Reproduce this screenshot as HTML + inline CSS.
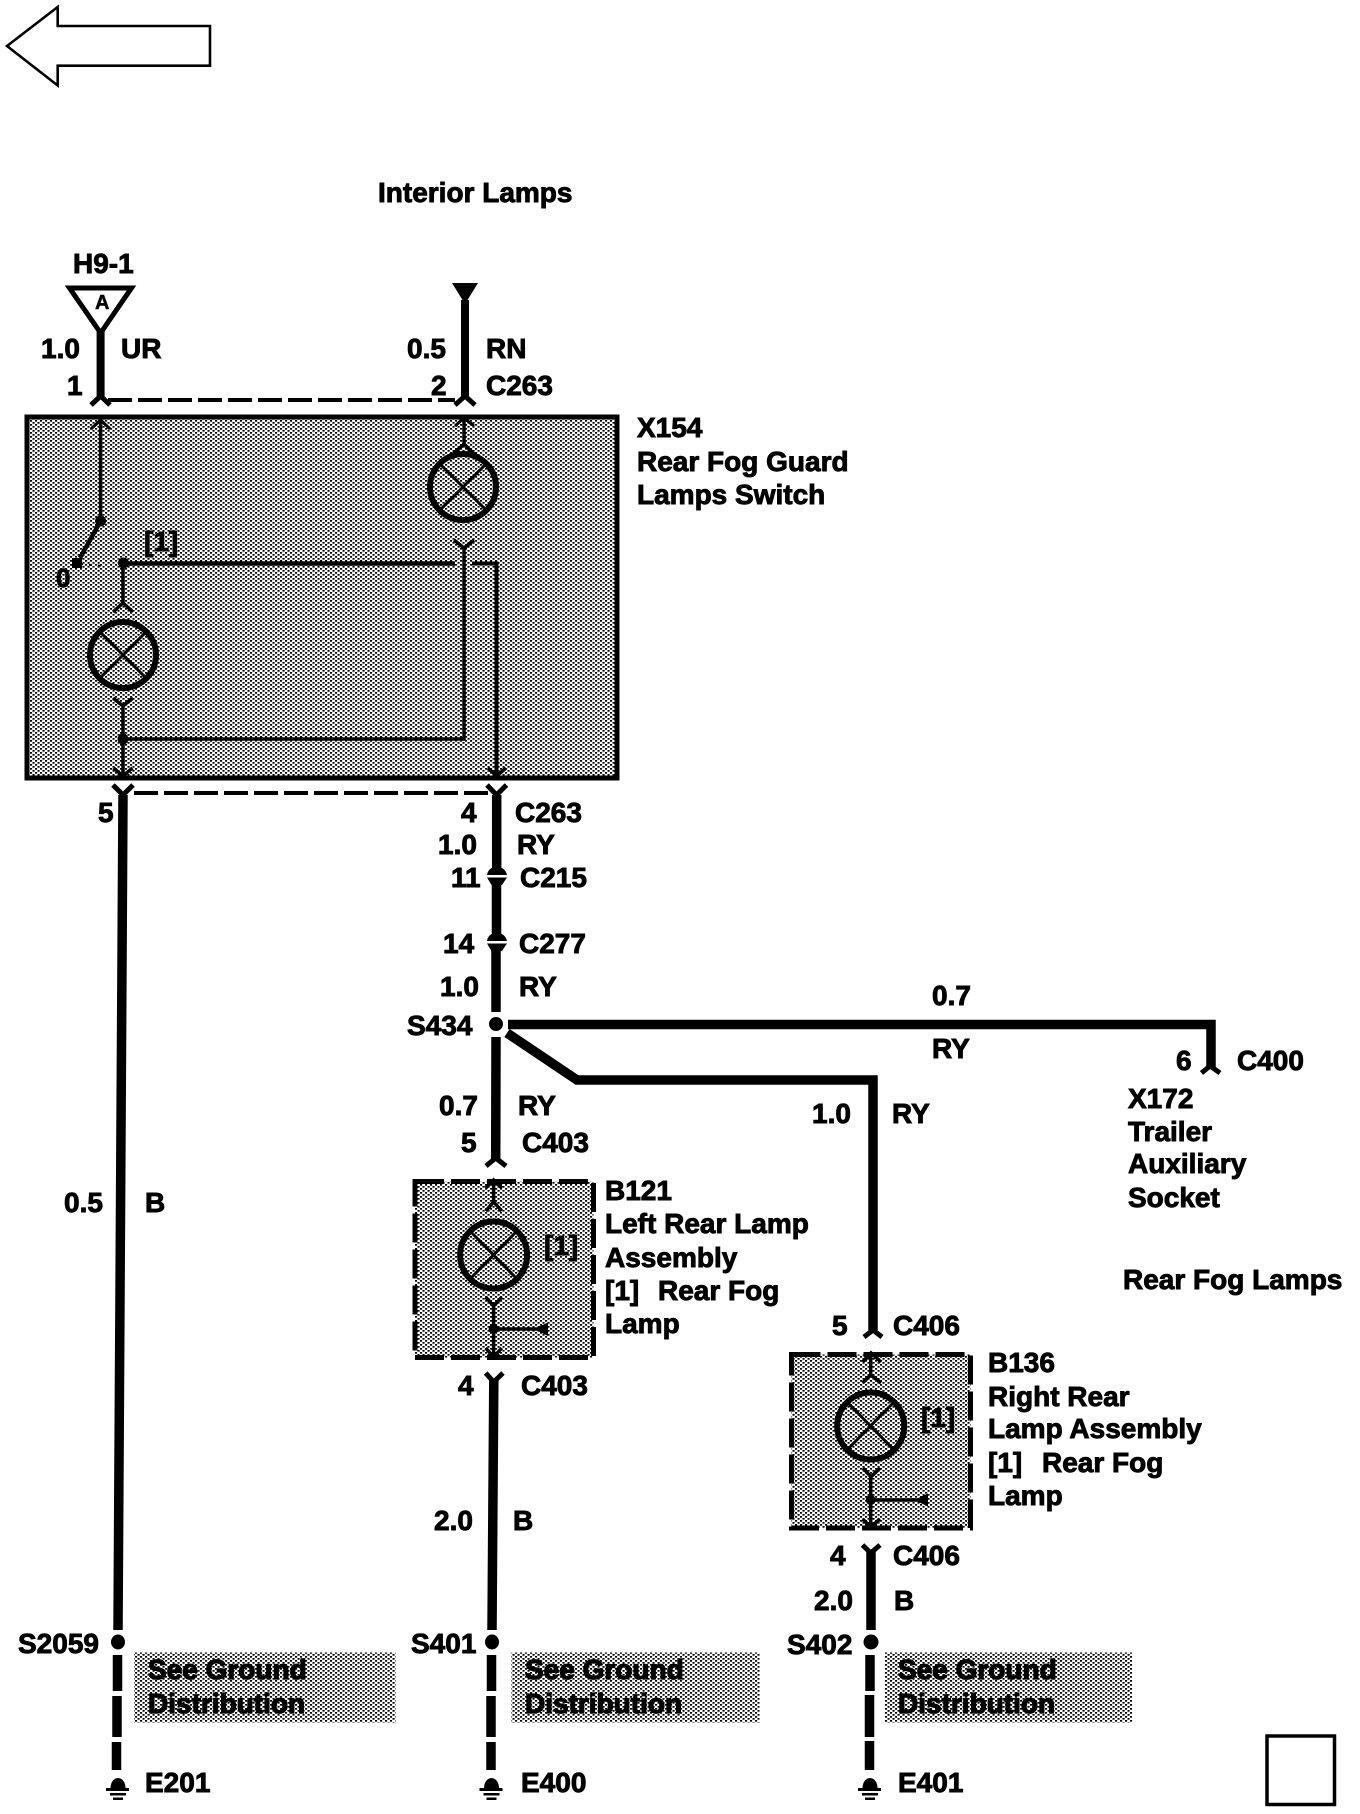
<!DOCTYPE html>
<html><head><meta charset="utf-8"><style>
html,body{margin:0;padding:0;background:#fff}
svg{display:block}
text{font-family:"Liberation Sans",sans-serif;font-weight:bold;font-size:28px;fill:#000;stroke:#000;stroke-width:.9px}
.w{fill:none;stroke:#000;stroke-width:9.5}
.t{fill:none;stroke:#000;stroke-width:3.5}
.c{fill:none;stroke:#000;stroke-width:5}
.l{fill:none;stroke:#000;stroke-width:6}
.x{stroke:#000;stroke-width:3}
</style></head><body>
<svg width="1360" height="1814" viewBox="0 0 1360 1814" xmlns="http://www.w3.org/2000/svg">
<defs>
<pattern id="d" width="5" height="4" patternUnits="userSpaceOnUse"><rect x="0" y="0" width="2.1" height="1.7" fill="#000"/><rect x="2.5" y="2" width="2.1" height="1.7" fill="#000"/></pattern>
</defs>
<rect width="1360" height="1814" fill="#fff"/>

<!-- back arrow -->
<polygon points="7,46 57.7,7 57.7,26 210,26 210,65.7 57.7,65.7 57.7,85.5" fill="#fff" stroke="#000" stroke-width="2.6"/>

<text x="378" y="202">Interior Lamps</text>

<!-- top connectors -->
<text x="73" y="273">H9-1</text>
<polygon points="69.5,288 131.5,288 100.6,333" fill="#fff" stroke="#000" stroke-width="5"/>
<text x="95" y="309" style="font-size:20px;stroke-width:.5px">A</text>
<line class="w" x1="100.6" y1="330" x2="100.6" y2="398" style="stroke-width:8"/>
<polyline class="c" points="91,405 100.6,396 110,405"/>
<polygon points="452,283 478,283 465,304" fill="#000"/>
<line class="w" x1="465" y1="300" x2="465" y2="398" style="stroke-width:8"/>
<polyline class="c" points="455,405 465,396 475,405"/>
<line x1="108" y1="400" x2="455" y2="400" stroke="#000" stroke-width="4" stroke-dasharray="24 6"/>
<text x="41" y="358">1.0</text><text x="121" y="358">UR</text>
<text x="407" y="358">0.5</text><text x="486" y="358">RN</text>
<text x="67" y="395">1</text><text x="431" y="395">2</text><text x="486" y="395">C263</text>

<!-- X154 box -->
<rect x="27" y="417" width="590" height="361" fill="#fff"/>
<rect x="27" y="417" width="590" height="361" fill="url(#d)" stroke="#000" stroke-width="5"/>
<polyline class="t" points="100.6,417 100.6,521"/>
<polyline class="c" style="stroke-width:3" points="91,429 100.6,420 110,429"/>
<circle cx="100.6" cy="521" r="5.5"/>
<line x1="100.6" y1="521" x2="80" y2="558" stroke="#000" stroke-width="4.5"/>
<rect x="72" y="558" width="10" height="10"/>
<line x1="80" y1="564" x2="104" y2="566" stroke="#000" stroke-width="2" stroke-dasharray="3 6"/>
<circle cx="123.5" cy="563" r="5.5"/>
<line x1="123" y1="563.5" x2="455" y2="563.5" stroke="#000" stroke-width="4.5"/>
<polyline class="t" style="stroke-width:4" points="472,563.5 496.5,563.5 496.5,777"/>
<polyline class="t" points="123,563 123,604"/>
<polyline class="c" style="stroke-width:3.5" points="113,612 123,603 133,612"/>
<circle class="l" cx="123" cy="655" r="33" style="stroke-width:6"/>
<line class="x" x1="100" y1="632" x2="146" y2="678"/><line class="x" x1="146" y1="632" x2="100" y2="678"/>
<polyline class="c" style="stroke-width:3.5" points="113,698 123,706 133,698"/>
<polyline class="t" points="123,706 123,777"/>
<circle cx="123" cy="739" r="5.5"/>
<polyline class="t" points="123,739 464,739 464,548"/>
<polyline class="c" style="stroke-width:3.5" points="113.5,768 123,776 132.5,768"/>
<polyline class="c" style="stroke-width:3.5" points="488,768 496.5,776 506,768"/>
<polyline class="t" points="464,417 464,444"/>
<polyline class="c" style="stroke-width:3" points="455,426 464,418 474,426"/>
<polyline class="c" style="stroke-width:3.5" points="452,455 464,444 475,455"/>
<circle class="l" cx="463" cy="487" r="33"/>
<line class="x" x1="440" y1="464" x2="486" y2="510"/><line class="x" x1="486" y1="464" x2="440" y2="510"/>
<polyline class="c" style="stroke-width:3.5" points="454,540 464,548 474,540"/>
<text x="144" y="551">[1]</text>
<text x="56" y="587" style="font-size:26px">0</text>
<text x="637" y="437">X154</text><text x="637" y="471">Rear Fog Guard</text><text x="637" y="504">Lamps Switch</text>

<!-- below box -->
<line x1="134" y1="793" x2="490" y2="793" stroke="#000" stroke-width="4" stroke-dasharray="24 6"/>
<line class="w" x1="123" y1="795" x2="118" y2="1630"/>
<polyline class="c" points="113,785 123,795 133,785"/>
<polyline class="c" points="487,785 496.5,795 506.5,785"/>
<line class="w" x1="496.7" y1="795" x2="496.7" y2="868"/>
<path d="M487,875 Q488,868 496.7,866 Q505.5,868 507,875 Z"/>
<path d="M487,877.5 L507,877.5 L502,885 L491.5,885 Z"/>
<line class="w" x1="496.5" y1="883" x2="496.5" y2="934"/>
<path d="M487,941 Q488,934 496.7,932 Q505.5,934 507,941 Z"/>
<path d="M487,943.5 L507,943.5 L502,951 L491.5,951 Z"/>
<line class="w" x1="496" y1="948" x2="496" y2="1012"/>
<circle cx="496" cy="1024" r="7"/>
<line class="w" x1="496" y1="1037" x2="495.7" y2="1160"/>
<polyline class="c" points="486,1166 495.7,1158 506,1166"/>
<polyline class="w" style="stroke-width:9.5" points="508,1024.5 1211,1024.5 1211,1068"/>
<polyline class="c" points="1201.5,1073 1210,1066 1220,1073"/>
<polyline class="w" points="507,1033 577,1080 873,1080 873,1330"/>
<polyline class="c" points="864,1337 873,1330 882,1337"/>

<text x="98" y="822">5</text><text x="461" y="822">4</text><text x="515" y="822">C263</text>
<text x="438" y="854">1.0</text><text x="517" y="854">RY</text>
<text x="451" y="887">11</text><text x="520" y="887">C215</text>
<text x="443" y="953">14</text><text x="519" y="953">C277</text>
<text x="440" y="996">1.0</text><text x="519" y="996">RY</text>
<text x="407" y="1035">S434</text>
<text x="439" y="1115">0.7</text><text x="518" y="1115">RY</text>
<text x="461" y="1152">5</text><text x="522" y="1152">C403</text>
<text x="812" y="1123">1.0</text><text x="892" y="1123">RY</text>
<text x="932" y="1005">0.7</text><text x="932" y="1058">RY</text>
<text x="1176" y="1070">6</text><text x="1237" y="1070">C400</text>
<text x="1128" y="1108">X172</text><text x="1128" y="1141">Trailer</text><text x="1128" y="1173">Auxiliary</text><text x="1128" y="1207">Socket</text>
<text x="1123" y="1289">Rear Fog Lamps</text>
<text x="64" y="1212">0.5</text><text x="145" y="1212">B</text>

<!-- B121 -->
<rect x="415" y="1181.5" width="178.5" height="176" fill="url(#d)"/>
<rect x="415" y="1181.5" width="178.5" height="176" fill="none" stroke="#000" stroke-width="5" stroke-dasharray="29 7"/>
<polyline class="t" points="493.6,1181 493.6,1202"/>
<polyline class="c" style="stroke-width:3.5" points="485.7,1188 493.6,1180 501.8,1188"/>
<polyline class="c" style="stroke-width:3.5" points="485.7,1211 493.6,1202 501.8,1211"/>
<circle cx="493.6" cy="1255" r="33.5" class="l"/>
<line class="x" x1="470" y1="1231" x2="517" y2="1279"/><line class="x" x1="517" y1="1231" x2="470" y2="1279"/>
<polyline class="c" style="stroke-width:3.5" points="485.7,1297 493.6,1306 501.8,1297"/>
<polyline class="t" points="493.6,1306 493.6,1357"/>
<circle cx="493.6" cy="1329" r="5"/>
<line x1="493.6" y1="1329" x2="540" y2="1329" stroke="#000" stroke-width="3.5"/>
<polygon points="534,1329 548,1322.5 548,1336" fill="#000"/>
<polyline class="c" style="stroke-width:3.5" points="485.7,1348 493.6,1357 501.8,1348"/>
<text x="544" y="1255">[1]</text>
<text x="605" y="1200">B121</text><text x="605" y="1233">Left Rear Lamp</text><text x="605" y="1267">Assembly</text><text x="605" y="1300">[1]</text><text x="658" y="1300">Rear Fog</text><text x="605" y="1333">Lamp</text>
<polyline class="c" points="485.7,1373 493.6,1382 503,1373"/>
<line class="w" x1="493.8" y1="1380" x2="492" y2="1630"/>
<text x="458" y="1395">4</text><text x="521" y="1395">C403</text>
<text x="434" y="1530">2.0</text><text x="513" y="1530">B</text>

<!-- C406 / B136 -->
<text x="832" y="1335">5</text><text x="893" y="1335">C406</text>
<rect x="791.5" y="1354.5" width="179" height="173.5" fill="url(#d)"/>
<rect x="791.5" y="1354.5" width="179" height="173.5" fill="none" stroke="#000" stroke-width="5" stroke-dasharray="29 7"/>
<polyline class="t" points="870.7,1354 870.7,1376"/>
<polyline class="c" style="stroke-width:3.5" points="862.5,1362 871,1353 881,1362"/>
<polyline class="c" style="stroke-width:3.5" points="862.5,1383 870.7,1375 881,1383"/>
<circle cx="870.7" cy="1426" r="33.5" class="l"/>
<line class="x" x1="847" y1="1402" x2="894" y2="1450"/><line class="x" x1="894" y1="1402" x2="847" y2="1450"/>
<polyline class="c" style="stroke-width:3.5" points="863,1468 871,1477 880,1468"/>
<polyline class="t" points="870.7,1477 870.7,1528"/>
<circle cx="870.7" cy="1500" r="5"/>
<line x1="870.7" y1="1500" x2="920" y2="1500" stroke="#000" stroke-width="3.5"/>
<polygon points="914,1500 928,1493.5 928,1506.5" fill="#000"/>
<polyline class="c" style="stroke-width:3.5" points="862.5,1519 870.7,1527 880,1519"/>
<text x="921" y="1427">[1]</text>
<text x="988" y="1372">B136</text><text x="988" y="1406">Right Rear</text><text x="988" y="1438">Lamp Assembly</text><text x="988" y="1472">[1]</text><text x="1042" y="1472">Rear Fog</text><text x="988" y="1505">Lamp</text>
<polyline class="c" points="862.5,1545 870.7,1553 880,1545"/>
<line class="w" x1="871" y1="1551" x2="871" y2="1630"/>
<text x="830" y="1565">4</text><text x="893" y="1565">C406</text>
<text x="814" y="1610">2.0</text><text x="894" y="1610">B</text>

<!-- splices and lower segments -->
<ellipse cx="118" cy="1642" rx="7" ry="7.5"/>
<ellipse cx="492" cy="1642" rx="7" ry="7.5"/>
<ellipse cx="871" cy="1642" rx="7.5" ry="7.5"/>
<g>
<line class="w" x1="117.5" y1="1655" x2="117.5" y2="1691"/><line class="w" x1="117" y1="1696" x2="117" y2="1737"/><line class="w" x1="116.5" y1="1742" x2="116.5" y2="1770"/>
<line class="w" x1="491.5" y1="1655" x2="491.5" y2="1691"/><line class="w" x1="491" y1="1696" x2="491" y2="1737"/><line class="w" x1="491" y1="1742" x2="491" y2="1770"/>
<line class="w" x1="870" y1="1655" x2="870" y2="1691"/><line class="w" x1="869.5" y1="1695" x2="869.5" y2="1737"/><line class="w" x1="869.5" y1="1741" x2="869.5" y2="1770"/>
</g>
<text x="18" y="1653">S2059</text><text x="411" y="1653">S401</text><text x="787" y="1654">S402</text>

<!-- grounds -->
<g><path d="M110.5,1788 a7.5,10 0 0 1 15,0 z"/><rect x="106" y="1788" width="23" height="3"/><rect x="110" y="1793" width="16" height="2.5"/><rect x="113" y="1797.5" width="10" height="2.5"/></g>
<g transform="translate(373.5,0)"><path d="M110.5,1788 a7.5,10 0 0 1 15,0 z"/><rect x="106" y="1788" width="23" height="3"/><rect x="110" y="1793" width="16" height="2.5"/><rect x="113" y="1797.5" width="10" height="2.5"/></g>
<g transform="translate(752,0)"><path d="M110.5,1788 a7.5,10 0 0 1 15,0 z"/><rect x="106" y="1788" width="23" height="3"/><rect x="110" y="1793" width="16" height="2.5"/><rect x="113" y="1797.5" width="10" height="2.5"/></g>
<text x="145" y="1792">E201</text><text x="521" y="1792">E400</text><text x="898" y="1792">E401</text>

<!-- see ground boxes -->
<rect x="134" y="1652.5" width="261.5" height="70" fill="url(#d)"/>
<rect x="511.5" y="1652.5" width="248" height="70" fill="url(#d)"/>
<rect x="885" y="1652.5" width="247" height="70" fill="url(#d)"/>
<text x="148" y="1679" style="stroke-width:1.2px">See Ground</text><text x="148" y="1713" style="stroke-width:1.2px">Distribution</text>
<text x="525" y="1679" style="stroke-width:1.2px">See Ground</text><text x="525" y="1713" style="stroke-width:1.2px">Distribution</text>
<text x="898" y="1679" style="stroke-width:1.2px">See Ground</text><text x="898" y="1713" style="stroke-width:1.2px">Distribution</text>

<rect x="1267" y="1736" width="67.5" height="68.5" fill="#fff" stroke="#000" stroke-width="3.5"/>
</svg>
</body></html>
